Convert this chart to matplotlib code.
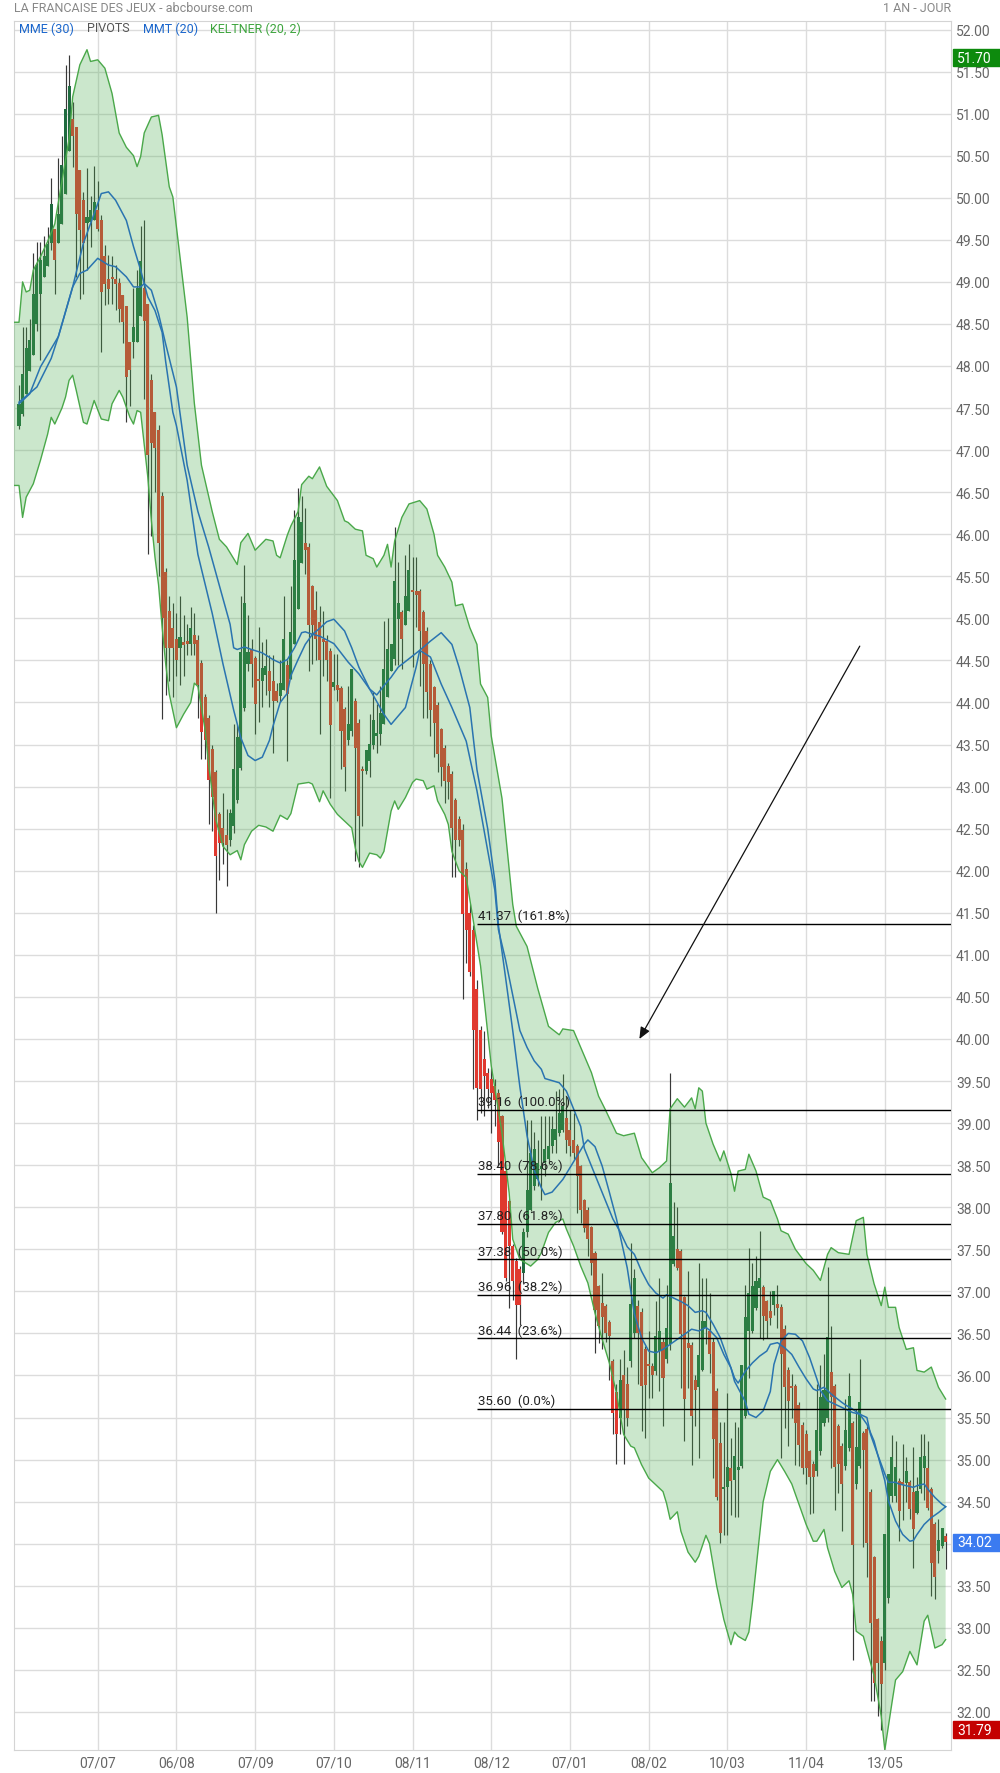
import numpy as np
import matplotlib
matplotlib.use("Agg")
import matplotlib.pyplot as plt
from matplotlib.patches import Rectangle

plt.rcParams['font.family'] = ['Roboto', 'DejaVu Sans']

# daily candles, index 0 = first session shown (one year)
opens = [
    47.29, 47.43, 47.67, 47.94, 48.13, 48.50, 48.85, 49.06, 49.19, 49.46,
    49.63, 49.46, 49.69, 50.04, 50.56, 50.94, 50.84, 50.33, 49.97, 49.70,
    49.71, 49.74, 49.85, 49.74, 49.31, 49.03, 49.05, 49.03, 48.99, 48.84,
    48.71, 48.29, 48.29, 48.29, 48.60, 48.93, 48.74, 47.83, 47.45, 47.24,
    46.45, 45.55, 45.09, 44.88, 44.76, 44.65, 44.72, 44.72, 44.70, 44.80,
    44.74, 44.47, 44.06, 43.81, 43.45, 43.17, 42.67, 42.51, 42.43, 42.37,
    42.53, 42.84, 43.22, 43.93, 44.46, 44.64, 44.53, 44.27, 44.25, 44.33,
    44.38, 44.26, 44.14, 44.08, 44.15, 44.45, 44.28, 44.69, 45.11, 45.66,
    45.89, 45.85, 45.39, 45.10, 44.96, 44.74, 44.73, 44.61, 44.18, 44.21,
    44.17, 43.92, 43.56, 43.66, 44.02, 43.76, 43.21, 43.19, 43.31, 43.50,
    43.60, 43.62, 43.75, 44.07, 44.37, 44.52, 44.99, 45.08, 44.92, 45.09,
    45.33, 45.32, 45.33, 45.08, 44.85, 44.46, 44.19, 43.97, 43.68, 43.46,
    43.25, 43.15, 42.84, 42.61, 42.48, 42.02, 41.50, 41.30, 40.60, 40.11,
    39.76, 39.60, 39.52, 39.44, 39.36, 39.08, 38.43, 38.07, 37.54, 37.36,
    37.26, 37.22, 37.70, 37.97, 38.25, 38.33, 38.45, 38.53, 38.57, 38.73,
    38.80, 38.88, 38.92, 39.06, 38.92, 38.80, 38.73, 38.49, 38.09, 37.97,
    37.76, 37.46, 37.06, 36.86, 36.82, 36.63, 36.17, 35.80, 35.50, 36.00,
    35.90, 36.17, 36.51, 36.83, 36.76, 36.31, 36.13, 36.11, 36.05, 36.29,
    36.40, 36.19, 36.37, 37.32, 37.50, 37.48, 36.93, 36.39, 36.36, 35.95,
    35.86, 36.07, 36.57, 36.53, 36.40, 35.81, 35.20, 34.65, 34.68, 34.90,
    34.76, 34.88, 34.92, 35.52, 36.53, 36.53, 36.80, 37.04, 37.05, 36.88,
    36.77, 36.84, 36.85, 36.81, 36.55, 36.06, 35.87, 35.87, 35.65, 35.41,
    35.30, 35.10, 34.95, 34.87, 35.10, 35.44, 35.50, 36.04, 35.88, 35.40,
    35.16, 34.92, 35.14, 35.44, 34.71, 34.92, 35.32, 35.36, 34.62, 33.84,
    33.10, 32.84, 32.58, 33.36, 34.57, 34.57, 34.75, 34.72, 34.72, 34.73,
    34.61, 34.37, 34.65, 34.90, 34.90, 34.65, 34.23, 33.91, 33.97, 34.09,
]
highs = [
    47.77, 48.46, 48.46, 48.56, 49.34, 49.47, 49.47, 49.54, 49.65, 50.23,
    49.63, 50.47, 50.73, 51.58, 51.70, 51.14, 50.84, 50.33, 50.07, 50.35,
    50.02, 50.38, 50.20, 49.80, 49.44, 49.32, 49.31, 49.20, 49.05, 48.84,
    48.71, 48.29, 48.93, 49.14, 49.67, 49.73, 48.74, 47.90, 47.45, 47.30,
    46.50, 45.60, 45.27, 45.18, 45.06, 45.27, 45.04, 44.93, 45.14, 45.06,
    44.80, 44.50, 44.10, 43.85, 43.50, 43.20, 42.70, 42.93, 42.73, 42.73,
    43.75, 43.73, 45.27, 45.64, 45.04, 44.75, 44.55, 44.90, 44.72, 44.75,
    44.56, 44.56, 44.23, 44.51, 45.27, 44.50, 45.39, 46.29, 46.55, 46.45,
    46.31, 45.90, 45.40, 45.32, 45.15, 45.09, 44.80, 44.65, 44.58, 44.58,
    44.20, 43.95, 44.20, 44.40, 44.05, 43.80, 43.25, 43.43, 43.86, 44.12,
    43.98, 44.20, 44.97, 45.00, 44.70, 46.09, 45.67, 45.10, 45.75, 45.88,
    45.73, 45.73, 45.35, 45.10, 44.90, 44.50, 44.20, 44.00, 43.70, 43.50,
    43.28, 43.18, 42.86, 42.65, 42.55, 42.10, 41.60, 41.35, 40.70, 40.15,
    40.09, 39.66, 39.66, 39.52, 39.40, 39.10, 38.45, 38.10, 37.56, 37.40,
    37.30, 37.75, 39.04, 39.04, 38.89, 38.80, 39.08, 39.08, 39.08, 39.08,
    39.38, 39.40, 39.58, 39.32, 39.16, 39.12, 38.75, 38.50, 38.10, 38.00,
    37.78, 37.48, 37.08, 37.22, 36.85, 36.66, 36.20, 35.90, 36.20, 36.30,
    36.10, 37.58, 37.26, 36.90, 36.80, 36.35, 36.53, 36.15, 36.88, 37.16,
    36.45, 37.08, 39.59, 38.06, 38.00, 37.50, 36.95, 37.24, 36.40, 36.00,
    37.34, 37.16, 37.16, 36.98, 36.45, 35.85, 35.45, 35.45, 35.79, 35.26,
    35.45, 35.39, 36.13, 37.08, 37.52, 37.34, 37.42, 37.72, 37.08, 36.90,
    37.00, 37.00, 37.08, 36.85, 36.60, 36.10, 36.02, 35.90, 35.68, 35.45,
    35.35, 35.12, 34.98, 35.90, 36.13, 36.25, 37.29, 36.59, 35.90, 35.42,
    35.20, 35.72, 36.03, 35.46, 35.60, 36.19, 35.34, 35.40, 34.65, 33.86,
    33.12, 32.90, 34.11, 34.83, 35.29, 35.22, 34.78, 35.18, 35.03, 34.76,
    35.15, 34.79, 35.30, 35.30, 35.22, 34.68, 34.26, 34.29, 34.19, 34.13,
]
lows = [
    47.25, 47.40, 47.67, 47.94, 48.13, 48.42, 48.07, 49.06, 49.19, 49.38,
    48.85, 49.46, 49.69, 50.04, 50.56, 50.37, 49.06, 48.80, 48.86, 49.14,
    49.41, 49.74, 49.60, 48.17, 48.72, 48.74, 48.74, 48.66, 48.52, 48.27,
    47.33, 47.53, 48.09, 48.29, 48.60, 47.61, 45.77, 45.98, 46.50, 45.50,
    43.80, 44.09, 44.25, 44.07, 44.32, 44.21, 44.32, 44.56, 44.56, 44.56,
    43.81, 43.33, 43.33, 42.56, 42.47, 41.50, 41.89, 42.08, 41.82, 42.30,
    42.45, 42.80, 43.20, 43.90, 44.37, 44.19, 43.63, 43.77, 43.95, 44.09,
    43.95, 43.40, 44.00, 44.00, 44.15, 43.31, 44.28, 44.69, 45.11, 45.66,
    45.53, 44.37, 44.46, 44.50, 43.63, 44.32, 44.26, 42.87, 44.15, 44.02,
    43.21, 42.95, 43.50, 43.60, 42.11, 42.04, 42.53, 43.15, 43.11, 43.45,
    43.40, 43.50, 43.75, 44.07, 44.37, 44.45, 44.45, 44.40, 44.92, 45.09,
    44.42, 44.90, 44.20, 43.82, 43.82, 43.60, 43.35, 43.17, 43.01, 42.81,
    42.85, 41.92, 41.92, 42.30, 40.47, 40.90, 40.75, 39.40, 39.04, 39.12,
    39.08, 39.18, 38.88, 38.96, 38.49, 37.68, 37.12, 36.80, 36.90, 36.19,
    36.60, 37.10, 37.65, 37.95, 38.20, 38.25, 38.09, 38.37, 38.53, 38.65,
    38.65, 38.85, 38.90, 38.65, 38.61, 38.57, 37.93, 37.81, 37.70, 37.42,
    37.20, 36.27, 36.39, 36.31, 36.40, 35.95, 35.30, 34.95, 35.30, 34.95,
    35.40, 36.10, 36.45, 35.90, 35.34, 35.26, 35.73, 35.73, 36.00, 35.81,
    35.40, 36.15, 36.30, 37.30, 37.25, 35.85, 35.22, 35.85, 34.94, 35.40,
    35.02, 36.05, 36.37, 36.03, 34.78, 34.52, 34.01, 34.10, 34.10, 34.34,
    34.32, 34.32, 34.90, 35.50, 35.97, 36.50, 36.78, 36.45, 36.42, 36.45,
    36.60, 36.72, 36.57, 35.02, 35.38, 35.16, 35.50, 34.94, 34.92, 34.83,
    34.71, 34.35, 34.37, 34.80, 35.05, 35.40, 35.45, 34.90, 34.40, 34.60,
    34.15, 34.88, 35.10, 32.62, 34.65, 34.90, 33.96, 33.61, 32.13, 32.13,
    31.95, 31.79, 32.50, 33.30, 34.50, 34.50, 34.03, 34.28, 34.50, 34.29,
    33.71, 34.35, 34.60, 34.52, 34.40, 33.38, 33.34, 33.77, 33.95, 33.70,
]
closes = [
    47.55, 47.91, 48.21, 48.31, 48.86, 49.20, 49.26, 49.31, 49.45, 49.93,
    49.26, 49.81, 50.39, 51.06, 51.33, 50.73, 49.81, 49.62, 49.46, 49.77,
    49.85, 49.95, 49.63, 48.88, 48.98, 48.91, 49.03, 48.98, 48.68, 48.52,
    47.87, 47.95, 48.46, 48.93, 49.25, 48.54, 46.94, 47.08, 47.03, 45.90,
    45.00, 44.65, 44.65, 44.65, 44.51, 44.78, 44.68, 44.70, 44.89, 44.70,
    44.21, 43.65, 43.56, 43.08, 42.88, 42.18, 42.33, 42.33, 42.31, 42.69,
    43.21, 43.59, 44.60, 45.18, 44.60, 44.46, 43.98, 44.25, 44.41, 44.43,
    44.14, 44.02, 44.02, 44.23, 44.75, 44.10, 44.84, 45.69, 46.21, 46.15,
    45.81, 44.92, 44.92, 44.76, 44.50, 44.72, 44.50, 43.73, 44.24, 44.15,
    43.66, 43.23, 43.74, 44.40, 43.46, 42.65, 43.18, 43.43, 43.51, 43.79,
    43.64, 43.88, 44.40, 44.63, 44.70, 45.45, 45.18, 44.75, 45.27, 45.57,
    45.31, 45.28, 44.85, 44.46, 44.13, 43.91, 43.76, 43.39, 43.23, 43.07,
    43.05, 42.51, 42.37, 42.37, 41.48, 41.30, 40.80, 40.11, 39.42, 39.40,
    39.56, 39.40, 39.36, 39.28, 38.77, 37.70, 37.16, 37.54, 37.12, 36.84,
    36.84, 37.70, 38.21, 38.65, 38.69, 38.53, 38.49, 38.69, 38.73, 38.93,
    38.93, 39.12, 39.20, 38.80, 38.73, 38.65, 38.37, 37.97, 37.75, 37.62,
    37.34, 36.78, 36.59, 36.70, 36.51, 36.47, 35.55, 35.30, 35.95, 35.60,
    35.50, 36.85, 37.16, 36.51, 35.87, 35.89, 36.11, 36.01, 36.47, 36.53,
    35.97, 36.57, 38.29, 37.66, 37.28, 36.49, 35.72, 36.33, 35.52, 35.83,
    36.24, 36.65, 36.65, 36.25, 35.24, 34.56, 34.13, 34.67, 34.91, 34.74,
    35.04, 34.90, 36.13, 36.69, 36.98, 37.06, 37.12, 37.16, 36.71, 36.65,
    36.68, 37.00, 36.80, 36.25, 35.86, 35.70, 35.85, 35.44, 35.17, 34.90,
    34.90, 34.79, 34.79, 35.35, 35.74, 35.83, 36.46, 35.74, 34.91, 34.95,
    34.71, 35.35, 35.76, 33.99, 35.15, 35.69, 35.12, 34.01, 33.06, 32.35,
    32.58, 32.33, 34.11, 34.83, 35.03, 34.91, 34.39, 34.70, 34.87, 34.41,
    34.18, 34.63, 35.03, 35.04, 34.42, 33.77, 33.61, 34.05, 34.19, 34.02,
]

# Keltner (20, 2) envelope, read at sample sessions
kelt_up_idx = [-1.4, 0, 1, 2, 3, 4, 6, 8, 10, 12, 14, 15, 17, 19, 20, 22, 24, 26, 28, 30,
               32, 33, 34, 35, 37, 39, 40, 42, 43, 45, 47, 49, 51, 54, 56, 58, 61, 62, 64, 66,
               69, 71, 72, 73, 75, 76, 78, 79, 81, 82, 84, 86, 89, 91, 92, 94, 96, 97, 99, 100,
               102, 103, 104, 105, 107, 109, 112, 114, 116, 117, 119, 121, 122, 124, 126, 128, 129, 131, 132, 135,
               138, 139, 142, 145, 148, 151, 152, 155, 158, 160, 162, 164, 167, 169, 172, 174, 177, 179, 181, 182,
               184, 186, 188, 189, 190, 191, 192, 194, 196, 197, 199, 200, 201, 203, 204, 206, 208, 210, 212, 213,
               215, 217, 220, 222, 224, 226, 227, 229, 232, 234, 236, 237, 239, 241, 242, 243, 245, 246, 248, 250,
               251, 253, 255, 257, 259]
kelt_up = [48.52, 48.52, 49.00, 48.88, 48.90, 49.14, 49.30, 49.48, 49.69, 50.20, 50.70, 51.20, 51.58, 51.76, 51.62, 51.64, 51.54, 51.24, 50.77, 50.60,
           50.50, 50.37, 50.49, 50.77, 50.96, 50.98, 50.75, 50.13, 50.01, 49.30, 48.58, 47.56, 46.82, 46.27, 45.94, 45.85, 45.64, 45.90, 46.01, 45.81,
           45.94, 45.92, 45.75, 45.72, 45.99, 46.10, 46.27, 46.59, 46.69, 46.66, 46.80, 46.57, 46.40, 46.16, 46.14, 46.06, 46.04, 45.75, 45.71, 45.61,
           45.75, 45.88, 45.61, 45.92, 46.20, 46.36, 46.40, 46.30, 46.00, 45.75, 45.61, 45.43, 45.15, 45.17, 44.89, 44.69, 44.22, 44.06, 43.60, 42.86,
           41.60, 41.34, 41.10, 40.60, 40.15, 40.05, 40.12, 40.10, 39.80, 39.60, 39.32, 39.15, 38.88, 38.85, 38.88, 38.59, 38.41, 38.47, 38.55, 39.17,
           39.29, 39.19, 39.30, 39.17, 39.42, 39.38, 39.00, 38.75, 38.55, 38.67, 38.40, 38.19, 38.43, 38.45, 38.63, 38.43, 38.12, 38.08, 37.86, 37.72,
           37.68, 37.50, 37.33, 37.25, 37.13, 37.44, 37.52, 37.46, 37.44, 37.84, 37.88, 37.44, 37.09, 36.83, 37.05, 36.81, 36.81, 36.57, 36.31, 36.33,
           36.06, 36.04, 36.10, 35.86, 35.72]
kelt_lo_idx = [-1.4, 0, 1, 2, 4, 6, 8, 9, 10, 12, 13, 14, 15, 16, 18, 19, 21, 23, 25, 26,
               28, 29, 31, 32, 33, 34, 36, 37, 38, 39, 40, 41, 42, 44, 46, 48, 49, 50, 52, 53,
               55, 57, 59, 61, 62, 63, 65, 67, 69, 71, 73, 75, 76, 78, 81, 82, 84, 85, 87, 89,
               91, 93, 94, 95, 96, 98, 100, 101, 102, 104, 105, 106, 108, 110, 111, 113, 114, 116, 117, 119,
               120, 121, 123, 125, 127, 129, 132, 135, 137, 138, 140, 143, 145, 146, 148, 150, 152, 153, 155, 157,
               159, 161, 163, 165, 167, 169, 171, 172, 174, 176, 180, 181, 182, 184, 185, 187, 189, 190, 192, 193,
               195, 197, 199, 200, 201, 203, 204, 205, 207, 208, 210, 212, 214, 216, 218, 220, 222, 223, 225, 226,
               228, 230, 232, 233, 234, 236, 237, 239, 241, 242, 244, 245, 247, 249, 251, 253, 254, 256, 258, 259]
kelt_lo = [46.58, 46.58, 46.20, 46.44, 46.60, 46.88, 47.19, 47.39, 47.31, 47.50, 47.63, 47.83, 47.89, 47.71, 47.33, 47.31, 47.59, 47.37, 47.35, 47.55,
           47.71, 47.63, 47.39, 47.31, 47.47, 47.45, 46.68, 46.16, 45.73, 45.40, 44.90, 44.46, 44.10, 43.70, 43.86, 44.00, 44.23, 44.19, 43.68, 43.26,
           42.61, 42.29, 42.19, 42.24, 42.13, 42.31, 42.47, 42.54, 42.52, 42.47, 42.66, 42.61, 42.68, 43.03, 43.05, 43.03, 42.82, 42.95, 42.79, 42.67,
           42.59, 42.51, 42.27, 42.11, 42.04, 42.21, 42.19, 42.15, 42.23, 42.71, 42.83, 42.73, 42.87, 43.05, 43.09, 43.07, 42.97, 43.01, 42.83, 42.67,
           42.55, 42.23, 42.00, 41.92, 41.40, 40.87, 39.68, 38.88, 38.17, 37.62, 37.38, 37.30, 37.38, 37.46, 37.70, 37.82, 37.86, 37.74, 37.54, 37.30,
           37.10, 36.74, 36.43, 36.15, 35.79, 35.30, 35.16, 35.14, 34.94, 34.78, 34.62, 34.48, 34.29, 34.38, 34.15, 33.90, 33.78, 33.85, 34.10, 34.00,
           33.50, 33.10, 32.80, 32.95, 32.90, 32.85, 32.95, 33.30, 34.10, 34.50, 34.86, 35.00, 34.86, 34.71, 34.47, 34.23, 34.03, 34.03, 34.17, 33.95,
           33.67, 33.48, 33.56, 33.40, 32.96, 32.90, 32.74, 32.43, 31.95, 31.55, 32.11, 32.38, 32.48, 32.72, 32.56, 33.08, 33.15, 32.76, 32.80, 32.86]

# MME (30)
mme_idx = [0, 5, 9, 11, 15, 18, 21, 23, 25, 27, 30, 32, 34, 36, 38, 40, 41, 43, 44, 47,
           50, 54, 57, 60, 62, 64, 66, 68, 70, 71, 73, 75, 76, 78, 80, 82, 84, 86, 88, 91,
           93, 95, 98, 100, 102, 104, 106, 112, 115, 118, 121, 123, 126, 128, 131, 133, 134, 136, 138, 140,
           142, 144, 146, 147, 149, 152, 155, 158, 159, 161, 163, 165, 167, 170, 172, 174, 176, 178, 180, 182,
           184, 186, 188, 190, 192, 193, 195, 197, 199, 200, 203, 204, 206, 208, 210, 211, 213, 215, 217, 219,
           221, 223, 224, 226, 229, 231, 233, 235, 237, 238, 240, 242, 243, 245, 247, 249, 250, 251, 253, 255,
           257, 259]
mme = [47.57, 47.75, 48.09, 48.35, 48.94, 49.46, 49.81, 50.05, 50.07, 49.97, 49.73, 49.42, 49.14, 48.82, 48.66, 48.40, 48.05, 47.45, 47.29, 46.64,
       45.76, 45.06, 44.46, 43.91, 43.58, 43.37, 43.31, 43.35, 43.55, 43.72, 44.00, 44.11, 44.32, 44.51, 44.69, 44.81, 44.88, 44.96, 44.99, 44.85,
       44.65, 44.42, 44.16, 44.09, 44.20, 44.30, 44.42, 44.62, 44.73, 44.83, 44.69, 44.42, 43.94, 43.20, 42.50, 41.88, 41.35, 40.73, 40.10, 39.43,
       38.85, 38.44, 38.23, 38.15, 38.18, 38.33, 38.54, 38.75, 38.80, 38.72, 38.49, 38.18, 37.86, 37.28, 36.73, 36.45, 36.29, 36.27, 36.31, 36.37,
       36.43, 36.49, 36.55, 36.53, 36.57, 36.54, 36.45, 36.25, 36.09, 35.93, 35.69, 35.54, 35.50, 35.58, 35.81, 36.13, 36.41, 36.50, 36.49, 36.41,
       36.21, 35.96, 35.82, 35.70, 35.64, 35.60, 35.56, 35.54, 35.50, 35.30, 35.06, 34.75, 34.51, 34.27, 34.11, 34.03, 34.04, 34.11, 34.23, 34.31,
       34.37, 34.44]

# MMT (20)
mmt_idx = [0, 3, 6, 11, 15, 17, 19, 22, 25, 27, 30, 32, 34, 35, 37, 39, 41, 44, 47, 50,
           53, 56, 59, 60, 61, 63, 65, 68, 71, 73, 75, 77, 79, 80, 82, 84, 88, 92, 95, 98,
           102, 104, 108, 111, 112, 115, 118, 121, 125, 128, 131, 133, 134, 136, 138, 140, 142, 144, 146, 147,
           151, 153, 155, 157, 158, 160, 162, 164, 166, 168, 170, 172, 174, 176, 178, 180, 181, 183, 185, 187,
           189, 191, 192, 194, 196, 198, 200, 201, 203, 205, 207, 209, 210, 212, 214, 216, 218, 220, 222, 223,
           225, 227, 230, 231, 233, 235, 237, 239, 240, 242, 243, 245, 246, 248, 250, 251, 253, 254, 256, 258,
           259]
mmt = [47.55, 47.67, 47.99, 48.35, 48.94, 49.10, 49.14, 49.28, 49.20, 49.18, 49.06, 48.94, 48.94, 48.98, 48.90, 48.62, 48.26, 47.75, 46.82, 46.27,
       45.85, 45.39, 44.93, 44.65, 44.63, 44.66, 44.63, 44.59, 44.51, 44.47, 44.51, 44.65, 44.83, 44.84, 44.81, 44.79, 44.70, 44.48, 44.34, 44.16,
       43.86, 43.74, 43.94, 44.42, 44.62, 44.54, 44.22, 43.94, 43.54, 42.95, 42.24, 41.77, 41.30, 40.94, 40.52, 40.10, 39.90, 39.74, 39.64, 39.53,
       39.48, 39.38, 39.17, 38.96, 38.70, 38.49, 38.28, 38.07, 37.86, 37.71, 37.53, 37.44, 37.24, 37.08, 36.98, 36.92, 36.96, 36.92, 36.88, 36.83,
       36.75, 36.77, 36.75, 36.61, 36.45, 36.21, 35.97, 35.91, 36.05, 36.15, 36.23, 36.29, 36.37, 36.39, 36.33, 36.25, 36.10, 35.96, 35.84, 35.82,
       35.86, 35.78, 35.68, 35.65, 35.60, 35.54, 35.42, 35.22, 35.06, 34.83, 34.73, 34.73, 34.71, 34.69, 34.67, 34.69, 34.71, 34.65, 34.55, 34.47,
       34.44]

fib_levels = [41.37, 39.16, 38.40, 37.80, 37.38, 36.96, 36.44, 35.60]
fib_pct = ["161.8%", "100.0%", "78.6%", "61.8%", "50.0%", "38.2%", "23.6%", "0.0%"]
fib_start = 128.1

arrow_from = (235.0, 44.67)
arrow_to = (173.4, 40.0)

tick_idx = [22, 44, 66, 88, 110, 132, 154, 176, 198, 220, 242]
tick_labels = ["07/07", "06/08", "07/09", "07/10", "08/11", "08/12",
               "07/01", "08/02", "10/03", "11/04", "13/05"]

badges = [(51.70, '#0d8a0d'), (34.02, '#3b7bf0'), (31.79, '#c40000')]

# ---- layout in pixels of a 1000x1774 image
W, HP = 1000, 1774
ax_l, ax_r, ax_t, ax_b = 14, 951, 21.5, 1751
y_min, y_max = 31.548, 52.107
x_min, x_max = -1.4, 260.5

fig = plt.figure(figsize=(10, 17.74), dpi=100)
ax = fig.add_axes([ax_l / W, 1 - ax_b / HP, (ax_r - ax_l) / W, (ax_b - ax_t) / HP])

x = np.arange(len(closes))
o = np.array(opens)
c = np.array(closes)
up = c >= o
ax.vlines(x, lows, highs, color='#383838', lw=0.85, zorder=2)
body = np.maximum(np.abs(c - o), 0.03)
ax.bar(x, body, bottom=np.minimum(o, c), width=0.85,
       color=np.where(up, '#1f6b3f', '#e0392f'), edgecolor='none', zorder=3)

# band drawn over the candles (translucent)
ax.fill(np.r_[kelt_up_idx, kelt_lo_idx[::-1]], np.r_[kelt_up, kelt_lo[::-1]],
        color='#4caf50', alpha=0.29, lw=0, zorder=4)
ax.plot(kelt_up_idx, kelt_up, color='#4aa84a', lw=1.0, zorder=5)
ax.plot(kelt_lo_idx, kelt_lo, color='#4aa84a', lw=1.0, zorder=5)

ax.plot(mme_idx, mme, color='#2a74b0', lw=1.1, zorder=6)
ax.plot(mmt_idx, mmt, color='#2a74b0', lw=1.1, zorder=6)

ax.hlines(fib_levels, fib_start, x_max, color='black', lw=1.0, zorder=7)
for lvl, pct in zip(fib_levels, fib_pct):
    ax.annotate(f"{lvl:.2f}  ({pct})", (fib_start, lvl), xytext=(0.5, 1.2),
                textcoords='offset points', fontsize=9.5, color='#222222',
                va='bottom', ha='left', zorder=8)

ax.annotate('', xy=arrow_to, xytext=arrow_from, zorder=8,
            arrowprops=dict(arrowstyle='-|>,head_length=0.7,head_width=0.3',
                            color='#111111', lw=0.9, shrinkA=0, shrinkB=0))

ax.set_xlim(x_min, x_max)
ax.set_ylim(y_min, y_max)
ax.set_xticks(tick_idx)
ax.set_xticklabels(tick_labels)
yt = np.arange(32, 52.01, 0.5)
ax.set_yticks(yt)
ax.set_yticklabels([f"{v:.2f}" for v in yt])
ax.yaxis.tick_right()
ax.tick_params(axis='y', length=0, pad=3.5, labelsize=10, labelcolor='#666666')
ax.tick_params(axis='x', length=0, pad=4, labelsize=10, labelcolor='#666666')
ax.grid(True, color='#dcdcdc', lw=1.0)
ax.set_axisbelow(True)
for s in ax.spines.values():
    s.set_color('#d4d4d4')

# price badges on the right scale
for val, col in badges:
    yc = ax_t + (y_max - val) / (y_max - y_min) * (ax_b - ax_t)
    if val > 51:
        yc += 3
    fig.add_artist(Rectangle((953 / W, 1 - (yc + 8.5) / HP), 47 / W, 17 / HP,
                             transform=fig.transFigure, color=col, zorder=10))
    fig.text(957 / W, 1 - yc / HP, f"{val:.2f}", color='white', fontsize=10,
             va='center', ha='left', zorder=11)

fig.text(14 / W, 1 - 9 / HP, "LA FRANCAISE DES JEUX - abcbourse.com",
         fontsize=9, color='#888888', va='center', ha='left')
fig.text(951 / W, 1 - 9 / HP, "1 AN - JOUR", fontsize=9, color='#888888',
         va='center', ha='right')

legend = [("MME (30)", 19, '#1a66cc'), ("PIVOTS", 87, '#555555'),
          ("MMT (20)", 143, '#1a66cc'), ("KELTNER (20, 2)", 210, '#3ea53e')]
for txt, px, col in legend:
    fig.text(px / W, 1 - 29 / HP, txt, fontsize=9, color=col, va='center', ha='left')

fig.savefig("out.png", dpi=100)
